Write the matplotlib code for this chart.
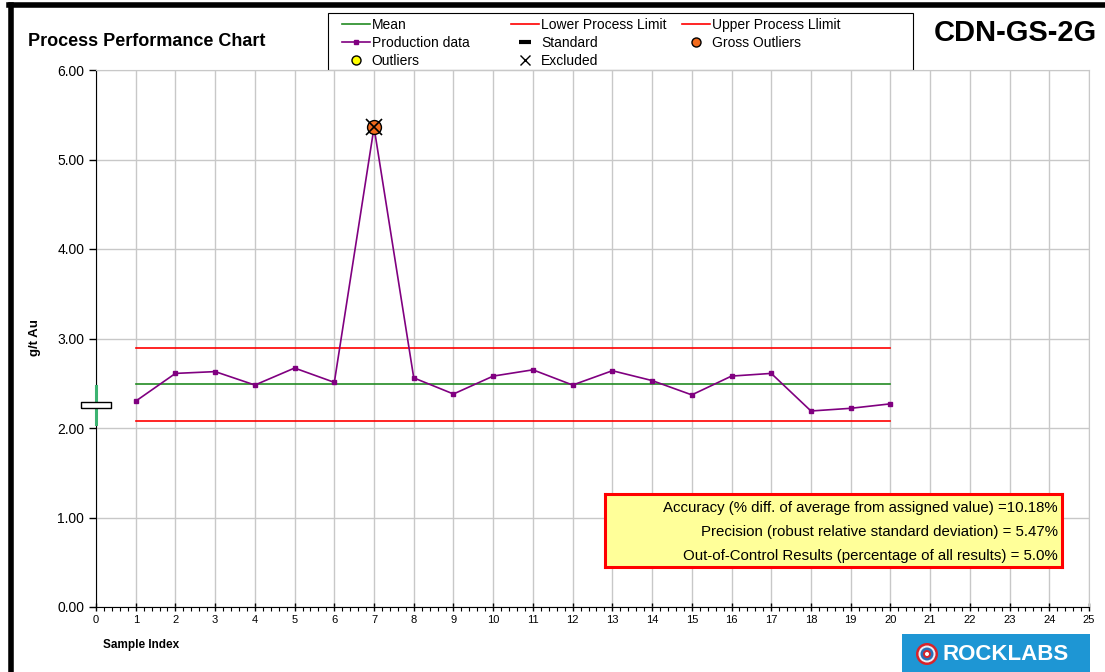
import matplotlib
matplotlib.use("Agg")
import matplotlib.pyplot as plt
from matplotlib.lines import Line2D
from matplotlib.patches import Rectangle, Ellipse
import numpy as np

plt.rcParams['font.family'] = ['Liberation Sans', 'DejaVu Sans']

# ---- data ----
sample_index = list(range(1, 21))
production = [2.30, 2.61, 2.63, 2.48, 2.67, 2.51, 5.36, 2.56, 2.38, 2.58,
              2.65, 2.48, 2.64, 2.53, 2.37, 2.58, 2.61, 2.19, 2.22, 2.27]
mean_value = 2.49
lower_limit = 2.08
upper_limit = 2.89
standard_value = 2.26
standard_low = 2.05
standard_high = 2.47
gross_outlier_x = [7]
gross_outlier_y = [5.36]
excluded_x = [7]
excluded_y = [5.36]
x_ticks = list(range(0, 26))
y_ticks = [0, 1, 2, 3, 4, 5, 6]
stats_lines = [
    "Accuracy (% diff. of average from assigned value) =10.18%",
    "Precision (robust relative standard deviation) = 5.47%",
    "Out-of-Control Results (percentage of all results) = 5.0%",
]

W, H = 1105, 672
fig = plt.figure(figsize=(W / 100, H / 100), dpi=100)
ax = fig.add_axes([96 / W, 1 - 607 / H, (1089 - 96) / W, (607 - 70) / H])

purple = '#800080'
green = '#228B22'
red = '#FF0000'
orange = '#F26B1D'

line_x = [sample_index[0], sample_index[-1]]
ax.plot(line_x, [mean_value] * 2, color=green, lw=1.2, zorder=3)
ax.plot(line_x, [lower_limit] * 2, color=red, lw=1.2, zorder=3)
ax.plot(line_x, [upper_limit] * 2, color=red, lw=1.2, zorder=3)
ax.plot(sample_index, production, color=purple, lw=1.2, marker='s',
        markersize=3, zorder=4)

# standard with range
ax.plot([0, 0], [standard_low, standard_high], color='#3CB371', lw=2.2,
        zorder=5, clip_on=False)
box = [(-1, -0.2), (1, -0.2), (1, 0.2), (-1, 0.2), (-1, -0.2)]
ax.plot([0], [standard_value], marker=box, markersize=22, markerfacecolor='white',
        markeredgecolor='black', markeredgewidth=1, linestyle='none',
        zorder=6, clip_on=False)

ax.plot(gross_outlier_x, gross_outlier_y, marker='o', markersize=10,
        markerfacecolor=orange, markeredgecolor='black', markeredgewidth=1,
        linestyle='none', zorder=7)
ax.plot(excluded_x, excluded_y, marker='x', markersize=11, color='black',
        markeredgewidth=1.2, linestyle='none', zorder=8)

ax.set_xlim(0, 25)
ax.set_ylim(0, 6)
ax.set_xticks(x_ticks)
ax.set_xticklabels([str(t) for t in x_ticks], fontsize=8)
ax.set_xticks(np.arange(0, 25.01, 0.2), minor=True)
ax.set_yticks(y_ticks)
ax.set_yticklabels([f"{v:.2f}" for v in y_ticks], fontsize=10)
ax.tick_params(axis='x', which='major', direction='inout', length=6, width=1,
               pad=3)
ax.tick_params(axis='x', which='minor', direction='out', length=3, width=0.8)
ax.tick_params(axis='y', which='major', direction='out', length=5, width=1)
ax.grid(True, which='major', color='#C8C8C8', lw=1)
ax.set_axisbelow(True)
for s in ['top', 'right']:
    ax.spines[s].set_color('#C8C8C8')
for s in ['left', 'bottom']:
    ax.spines[s].set_color('black')

fig.text(35 / W, 1 - 338 / H, "g/t Au", rotation=90, fontsize=9.5,
         fontweight='bold', ha='center', va='center')
fig.text(103 / W, 1 - 645 / H, "Sample Index", fontsize=8.5,
         fontweight='bold', ha='left', va='center')
fig.text(28 / W, 1 - 41 / H, "Process Performance Chart", fontsize=13,
         fontweight='bold', ha='left', va='center')
fig.text(1097 / W, 1 - 33 / H, "CDN-GS-2G", fontsize=21,
         fontweight='bold', ha='right', va='center')

# stats box
ax_box = fig.add_axes([605 / W, 1 - 567 / H, (1062 - 605) / W, (567 - 494) / H])
ax_box.set_xlim(0, 1)
ax_box.set_ylim(0, 1)
ax_box.set_xticks([])
ax_box.set_yticks([])
ax_box.set_facecolor('#FFFF99')
for s in ax_box.spines.values():
    s.set_color(red)
    s.set_linewidth(2.2)
for i, t in enumerate(stats_lines):
    ax_box.text(0.991, 0.808 - i * 0.329, t, ha='right', va='center', fontsize=10.8)

# legend: three columns at fixed positions, one frame
columns = [
    ([Line2D([], [], color=green, lw=1.2),
      Line2D([], [], color=purple, lw=1.2, marker='s', markersize=3),
      Line2D([], [], color='none', marker='o', markersize=6.5,
             markerfacecolor='#FFFF00', markeredgecolor='black')],
     ["Mean", "Production data", "Outliers"], 342),
    ([Line2D([], [], color=red, lw=1.2),
      Line2D([], [], color='none', marker='_', markersize=9, markeredgewidth=3,
             markeredgecolor='black'),
      Line2D([], [], color='none', marker='x', markersize=6.5,
             markeredgecolor='black')],
     ["Lower Process Limit", "Standard", "Excluded"], 511),
    ([Line2D([], [], color=red, lw=1.2),
      Line2D([], [], color='none', marker='o', markersize=6.5,
             markerfacecolor=orange, markeredgecolor='black')],
     ["Upper Process Llimit", "Gross Outliers"], 682),
]
for hs, ls, x0 in columns:
    lg = fig.legend(hs, ls, ncol=1, loc='upper left',
                    bbox_to_anchor=(x0 / W, 1 - 18 / H), fontsize=10,
                    frameon=False, handlelength=2.0, handletextpad=0.15,
                    labelspacing=0.3, borderpad=0, borderaxespad=0)
fig.patches.append(Rectangle((328 / W, 1 - 70 / H), (913 - 328) / W, (70 - 13) / H,
                             transform=fig.transFigure, facecolor='white',
                             edgecolor='black', lw=0.8, zorder=-1))

# logo
fig.patches.append(Rectangle((902 / W, 0), (1090 - 902) / W, (672 - 634) / H,
                             transform=fig.transFigure, facecolor='#1E96D4',
                             edgecolor='none'))
for r, c in [(11, '#D8232A'), (8.5, '#E8F0F8'), (6.5, '#2A6FB6'), (4, '#D8232A'), (2, 'white')]:
    fig.patches.append(Ellipse((927 / W, 1 - 654 / H), 2 * r / W, 2 * r / H,
                               transform=fig.transFigure, facecolor=c,
                               edgecolor='none'))
fig.text(1006 / W, 1 - 655 / H, "ROCKLABS", color='white', fontsize=16,
         fontweight='heavy', ha='center', va='center')

# outer frame
fig.add_artist(Line2D([11 / W, 11 / W], [0, 1 - 5 / H], color='black', lw=4,
                      transform=fig.transFigure))
fig.add_artist(Line2D([9 / W, 1], [1 - 5 / H, 1 - 5 / H], color='black', lw=4,
                      transform=fig.transFigure))

fig.savefig("out.png", dpi=100)
